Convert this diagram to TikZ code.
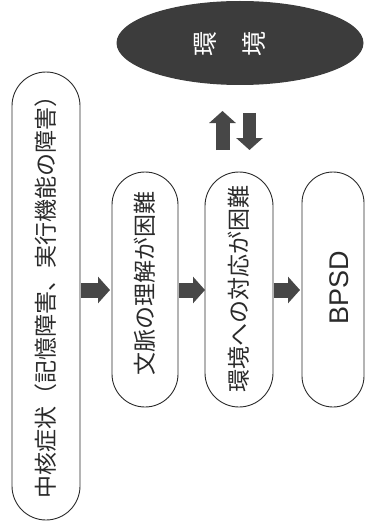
\documentclass[tikz,border=0pt]{standalone}
\usepackage{fontspec}
\setmainfont{Noto Sans CJK JP}
\newfontfamily\latinsans{Liberation Sans}
\usetikzlibrary{arrows.meta}
\definecolor{ink}{HTML}{2A2A2A}
\definecolor{darkfill}{HTML}{3C3C3C}
\definecolor{arrowgray}{HTML}{474747}
\tikzset{
  pill/.style={draw=ink, line width=0.9pt, rounded corners=#1, inner sep=0pt},
  vtext/.style={rotate=90, text=ink, font=\fontsize{23pt}{23pt}\selectfont},
  envtext/.style={rotate=90, text=white, font=\fontsize{25pt}{25pt}\selectfont},
  blockarrow/.style={draw=arrowgray, line width=15pt,
    -{Triangle[width=26pt 0 0, length=12pt 0 0, fill=arrowgray]}}
}
\begin{document}
\begin{tikzpicture}[x=1pt,y=1pt]
\useasboundingbox (0,0) rectangle (365,-524);
% environment ellipse
\fill[darkfill] (240,-43) ellipse [x radius=123.5, y radius=42];
\node (env) at (240,-43) {};
\node[envtext] (kan) at (205,-44) {環};
\node[envtext] (kyo) at (254,-44) {境};
% boxes
\draw[pill=34pt] (12,-72) rectangle (80,-520);
\node (b1) at (46,-296) [minimum width=68pt, minimum height=448pt] {};
\node[vtext] at (46,-291) {中核症状（記憶障害、実行機能の障害）};
\draw[pill=33pt] (112,-172) rectangle (178,-407);
\node (b2) at (145,-289.5) [minimum width=66pt, minimum height=235pt, inner sep=0pt] {};
\node[vtext] at (145,-283) {文脈の理解が困難};
\draw[pill=34pt] (205,-172) rectangle (273,-407);
\node (b3) at (239,-289.5) [minimum width=68pt, minimum height=235pt, inner sep=0pt] {};
\node[vtext] at (239,-289) {環境への対応が困難};
\draw[pill=31pt] (302,-172) rectangle (364,-407);
\node (b4) at (333,-289.5) [minimum width=62pt, minimum height=235pt, inner sep=0pt] {};
\node[vtext, font=\latinsans\fontsize{27pt}{27pt}\selectfont] at (339,-287.5) {BPSD};
% horizontal arrows
\coordinate (a1s) at (81,-290);
\coordinate (a1e) at (110,-290);
\coordinate (a2s) at (179,-290);
\coordinate (a2e) at (205,-290);
\coordinate (a3s) at (274,-290);
\coordinate (a3e) at (300,-290);
\draw[blockarrow] (a1s) -- (a1e);
\draw[blockarrow] (a2s) -- (a2e);
\draw[blockarrow] (a3s) -- (a3e);
% vertical arrows
\coordinate (upS) at (222.5,-150);
\coordinate (upE) at (222.5,-111);
\coordinate (dnS) at (249.5,-113);
\coordinate (dnE) at (249.5,-150);
\draw[blockarrow, line width=14pt] (upS) -- (upE);
\draw[blockarrow, line width=13pt] (dnS) -- (dnE);
\end{tikzpicture}
\end{document}
